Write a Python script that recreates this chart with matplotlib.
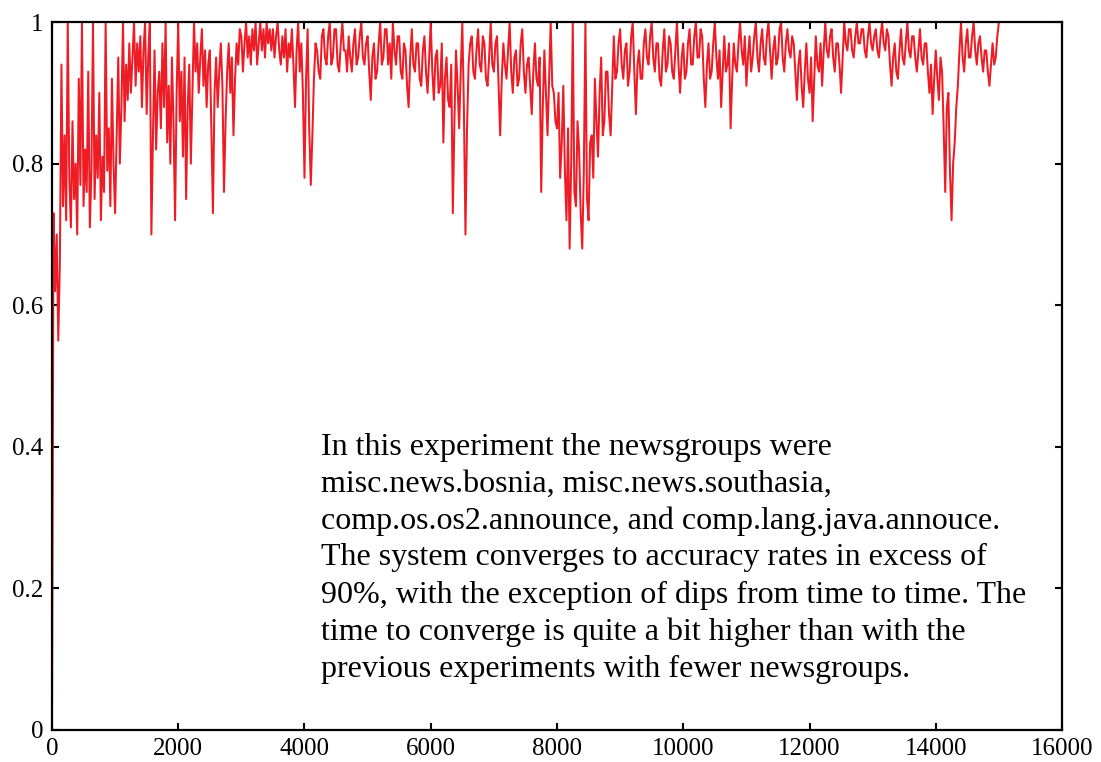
import numpy as np
import matplotlib
matplotlib.use("Agg")
import matplotlib.pyplot as plt

# accuracy, one value every 25 messages
step = 25
accuracy = [
    0.00, 0.73, 0.62, 0.70, 0.55, 0.66, 0.94, 0.74, 0.84, 0.72, 1.00, 0.78, 0.71, 0.86, 0.75, 0.80, 0.70, 0.92, 0.77, 1.00,
    0.74, 0.82, 0.76, 0.93, 0.71, 0.79, 1.00, 0.75, 0.84, 0.78, 0.90, 0.72, 0.81, 0.76, 1.00, 0.79, 0.85, 0.74, 0.92, 0.80,
    0.73, 0.84, 0.95, 0.80, 0.88, 1.00, 0.86, 0.94, 0.89, 0.97, 0.90, 0.95, 1.00, 0.91, 0.97, 0.93, 0.98, 0.88, 0.96, 1.00,
    0.87, 0.95, 1.00, 0.70, 0.84, 0.96, 0.82, 0.90, 0.93, 0.85, 0.97, 0.88, 1.00, 0.83, 0.91, 0.80, 0.95, 0.86, 0.72, 0.90,
    1.00, 0.86, 0.93, 0.81, 0.95, 0.75, 0.88, 0.94, 0.80, 0.90, 1.00, 0.93, 0.97, 0.90, 0.95, 0.99, 0.91, 0.96, 0.88, 0.94,
    0.96, 0.85, 0.73, 0.90, 0.95, 0.88, 0.93, 0.97, 0.91, 0.76, 0.86, 0.93, 0.97, 0.90, 0.95, 0.84, 0.92, 0.97, 0.94, 0.99,
    0.98, 0.93, 0.97, 1.00, 0.95, 0.98, 0.94, 0.99, 0.96, 1.00, 0.94, 0.97, 1.00, 0.96, 0.99, 0.95, 1.00, 0.97, 0.99, 0.96,
    0.99, 0.95, 0.98, 1.00, 0.96, 0.94, 0.98, 0.95, 0.99, 0.93, 0.97, 0.95, 0.99, 0.94, 0.88, 0.96, 1.00, 0.93, 0.97, 0.90,
    0.78, 0.92, 0.99, 0.85, 0.77, 0.84, 0.92, 0.97, 0.96, 0.93, 0.92, 0.98, 0.99, 0.95, 0.94, 0.98, 1.00, 0.94, 0.95, 0.99,
    0.99, 0.94, 0.93, 0.97, 1.00, 0.96, 0.96, 0.93, 0.98, 0.95, 0.93, 0.97, 0.99, 0.94, 0.95, 0.98, 1.00, 0.95, 0.94, 0.97,
    0.98, 0.93, 0.89, 0.95, 0.97, 0.92, 0.93, 0.97, 1.00, 0.94, 0.95, 0.99, 0.99, 0.94, 0.97, 0.92, 1.00, 0.96, 0.94, 0.98,
    0.98, 0.93, 0.92, 0.97, 0.96, 0.91, 0.88, 0.95, 0.99, 0.94, 0.93, 0.97, 0.97, 0.92, 0.91, 0.96, 0.98, 0.93, 0.90, 0.95,
    1.00, 0.93, 0.89, 0.95, 0.96, 0.90, 0.91, 0.97, 0.83, 0.92, 0.95, 0.89, 0.88, 0.94, 0.73, 0.86, 0.96, 0.91, 0.85, 0.93,
    1.00, 0.88, 0.70, 0.85, 0.94, 0.97, 0.98, 0.93, 0.92, 0.96, 0.99, 0.94, 0.93, 0.98, 0.97, 0.92, 0.91, 0.95, 1.00, 0.94,
    0.93, 0.97, 0.98, 0.91, 0.84, 0.92, 0.97, 0.94, 0.92, 0.96, 1.00, 0.93, 0.90, 0.95, 0.96, 0.91, 0.92, 0.97, 0.99, 0.93,
    0.90, 0.94, 0.95, 0.91, 0.87, 0.93, 0.97, 0.92, 0.91, 0.95, 0.76, 0.88, 0.96, 0.90, 0.84, 0.92, 1.00, 0.91, 0.90, 0.86,
    0.85, 0.90, 0.78, 0.83, 0.91, 0.79, 0.72, 0.85, 0.68, 0.80, 1.00, 0.76, 0.74, 0.86, 0.82, 0.73, 0.68, 0.79, 1.00, 0.75,
    0.72, 0.83, 0.84, 0.78, 0.92, 0.86, 0.81, 0.90, 0.95, 0.84, 0.86, 0.93, 0.93, 0.87, 0.84, 0.91, 0.98, 0.92, 0.93, 0.97,
    0.99, 0.94, 0.92, 0.96, 0.97, 0.91, 0.93, 0.98, 1.00, 0.93, 0.87, 0.94, 0.96, 0.92, 0.92, 0.97, 0.99, 0.95, 0.94, 0.98,
    1.00, 0.95, 0.93, 0.97, 0.97, 0.92, 0.91, 0.96, 0.99, 0.93, 0.94, 0.98, 0.97, 0.93, 0.92, 0.96, 1.00, 0.94, 0.90, 0.95,
    0.97, 0.92, 0.93, 0.97, 0.99, 0.94, 0.94, 0.98, 1.00, 0.95, 0.95, 0.99, 0.98, 0.92, 0.88, 0.94, 0.97, 0.92, 0.93, 0.97,
    1.00, 0.95, 0.92, 0.96, 0.88, 0.93, 0.98, 0.93, 0.94, 0.97, 0.85, 0.92, 0.97, 0.94, 0.93, 0.97, 1.00, 0.96, 0.94, 0.98,
    0.91, 0.95, 0.98, 0.93, 0.95, 0.98, 1.00, 0.95, 0.93, 0.97, 0.99, 0.95, 0.94, 0.98, 1.00, 0.96, 0.92, 0.96, 0.98, 0.94,
    0.95, 0.99, 1.00, 0.95, 0.93, 0.97, 0.99, 0.96, 0.95, 0.98, 0.97, 0.93, 0.89, 0.94, 0.96, 0.91, 0.88, 0.93, 0.97, 0.92,
    0.90, 0.95, 0.86, 0.92, 0.98, 0.94, 0.93, 0.97, 0.91, 0.96, 1.00, 0.96, 0.95, 0.98, 0.99, 0.95, 0.93, 0.97, 0.97, 0.94,
    0.90, 0.95, 1.00, 0.97, 0.96, 0.99, 0.99, 0.96, 0.95, 0.98, 1.00, 0.97, 0.97, 0.99, 0.99, 0.96, 0.95, 0.98, 1.00, 0.97,
    0.96, 0.98, 0.99, 0.96, 0.95, 0.98, 1.00, 0.97, 0.96, 0.99, 0.98, 0.94, 0.91, 0.95, 0.97, 0.93, 0.92, 0.96, 0.99, 0.95,
    0.94, 0.97, 1.00, 0.96, 0.95, 0.98, 0.98, 0.95, 0.93, 0.96, 0.99, 0.95, 0.94, 0.97, 0.97, 0.93, 0.90, 0.94, 0.87, 0.92,
    0.96, 0.92, 0.89, 0.95, 0.93, 0.85, 0.76, 0.88, 0.90, 0.79, 0.72, 0.80, 0.83, 0.88, 0.91, 0.96, 1.00, 0.95, 0.93, 0.97,
    0.99, 0.95, 0.95, 0.98, 1.00, 0.96, 0.94, 0.97, 0.98, 0.95, 0.93, 0.96, 0.96, 0.93, 0.91, 0.94, 0.97, 0.94, 0.95, 0.98,
    1.00,
]
messages = np.arange(len(accuracy)) * step

xticks = [0, 2000, 4000, 6000, 8000, 10000, 12000, 14000, 16000]
yticks = [0, 0.2, 0.4, 0.6, 0.8, 1]
ytick_labels = ["0", "0.2", "0.4", "0.6", "0.8", "1"]

note = ("In this experiment the newsgroups were\n"
        "misc.news.bosnia, misc.news.southasia,\n"
        "comp.os.os2.announce, and comp.lang.java.annouce.\n"
        "The system converges to accuracy rates in excess of\n"
        "90%, with the exception of dips from time to time. The\n"
        "time to converge is quite a bit higher than with the\n"
        "previous experiments with fewer newsgroups.")

plt.rcParams['font.family'] = ['Liberation Serif', 'DejaVu Serif']

fig = plt.figure(figsize=(11.01, 7.62), dpi=100)
ax = fig.add_axes([0.0472, 0.042, 0.9174, 0.929])

ax.plot(messages, accuracy, color='#ee1c25', linewidth=1.45)

ax.set_xlim(0, 16000)
ax.set_ylim(0, 1)
ax.set_xticks(xticks)
ax.set_xticklabels([str(t) for t in xticks])
ax.set_yticks(yticks)
ax.set_yticklabels(ytick_labels)
ax.tick_params(direction='in', length=5, width=1.5, labelsize=18,
               top=True, right=True, pad=6)
for s in ax.spines.values():
    s.set_linewidth(1.6)

ax.text(0.266, 0.42, note, transform=ax.transAxes, ha='left', va='top',
        fontsize=23, linespacing=1.35)

fig.savefig('out.png', dpi=100)
